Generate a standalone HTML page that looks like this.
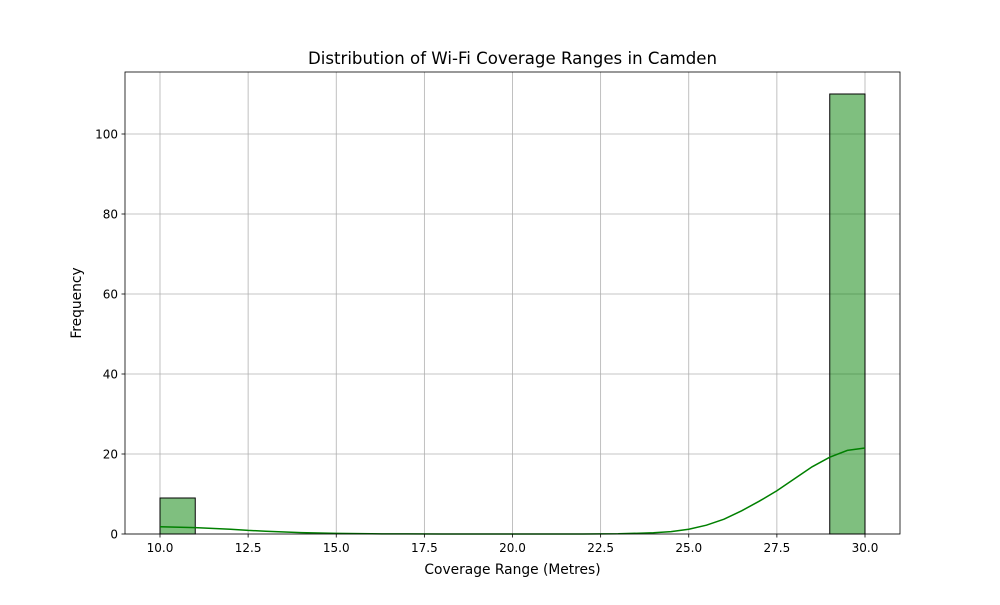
<!DOCTYPE html>
<html><head><meta charset="utf-8"><style>
body{margin:0;background:#fff;font-family:"Liberation Sans","DejaVu Sans",sans-serif;}
svg text{font-family:"DejaVu Sans","Liberation Sans",sans-serif;}
</style></head><body>
<svg id="chart" width="1000" height="600" xmlns="http://www.w3.org/2000/svg">
<rect width="1000" height="600" fill="#fff"/>
<g id="grid"></g><g id="bars"></g><g id="kde"></g><g id="axes"></g>
<text x="512.5" y="64" text-anchor="middle" font-size="16.6">Distribution of Wi-Fi Coverage Ranges in Camden</text>
<text x="512.5" y="574" text-anchor="middle" font-size="13.8">Coverage Range (Metres)</text>
<text transform="translate(81,303) rotate(-90)" text-anchor="middle" font-size="13.8">Frequency</text>
</svg>
<script>
const binStarts=[10,11,12,13,14,15,16,17,18,19,20,21,22,23,24,25,26,27,28,29];
const counts=[9,0,0,0,0,0,0,0,0,0,0,0,0,0,0,0,0,0,0,110];
const kdeX=[10,11,12,12.5,13,14,15,16,17,18,20,22,23,24,24.5,25,25.5,26,26.5,27,27.5,28,28.5,29,29.5,30];
const kdeY=[1.8,1.6,1.2,0.9,0.7,0.35,0.15,0.05,0.02,0.01,0,0,0.05,0.3,0.6,1.2,2.2,3.7,5.8,8.2,10.8,13.8,16.8,19.2,20.9,21.5];
const xTicks=[10,12.5,15,17.5,20,22.5,25,27.5,30];
const yTicks=[0,20,40,60,80,100];
const L=125,R=900,T=72,B=534;
const xs=v=>160+(v-10)*35.25;
const ys=v=>B-v*4;
const NS="http://www.w3.org/2000/svg";
function mk(tag,attrs,parent){const e=document.createElementNS(NS,tag);for(const k in attrs)e.setAttribute(k,attrs[k]);document.getElementById(parent).appendChild(e);return e;}
xTicks.forEach(t=>{
 const g=mk('line',{x1:xs(t),x2:xs(t),y1:T,y2:B,stroke:'#b0b0b0','stroke-width':0.8},'grid');
 
 
 mk('line',{x1:xs(t),x2:xs(t),y1:B,y2:B+3.5,stroke:'#000','stroke-width':0.8},'axes');
 const tx=mk('text',{x:xs(t),y:B+18,'text-anchor':'middle','font-size':12},'axes');
 tx.textContent=t.toFixed(1);
 
 
});
yTicks.forEach(t=>{
 const g=mk('line',{x1:L,x2:R,y1:ys(t),y2:ys(t),stroke:'#b0b0b0','stroke-width':0.8},'grid');
 
 
 mk('line',{x1:L-3.5,x2:L,y1:ys(t),y2:ys(t),stroke:'#000','stroke-width':0.8},'axes');
 const tx=mk('text',{x:L-7,y:ys(t)+4.5,'text-anchor':'end','font-size':12},'axes');
 tx.textContent=t;
 
 
});
binStarts.forEach((b,i)=>{
 if(counts[i]<=0)return;
 const r=mk('rect',{x:xs(b),y:ys(counts[i]),width:xs(b+1)-xs(b),height:B-ys(counts[i]),fill:'rgba(0,128,0,0.5)',stroke:'#000','stroke-width':1},'bars');
 
 
});
const p=mk('path',{d:kdeX.map((x,i)=>(i?'L':'M')+xs(x)+','+ys(kdeY[i])).join(''),fill:'none',stroke:'#008000','stroke-width':1.5},'kde');


const fr=mk('rect',{x:L,y:T,width:R-L,height:B-T,fill:'none',stroke:'#000','stroke-width':0.8},'axes');


</script>
</body></html>
